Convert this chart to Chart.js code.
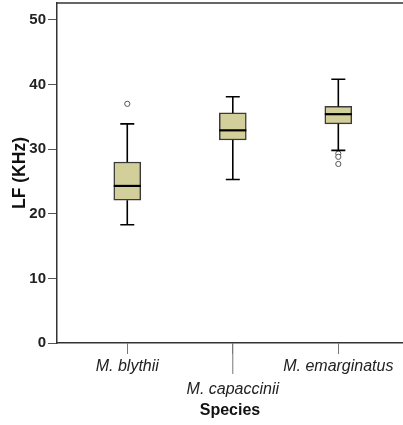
<!DOCTYPE html>
<html>
<head>
    <title>LF by species</title>
    <script src="https://cdn.jsdelivr.net/npm/chart.js"></script>
    <style>
        body { margin: 0; background: #fff; }
    </style>
</head>
<body>
    <canvas id="boxChart" width="403" height="425"></canvas>

<script>
    // values
    var species = ['M. blythii', 'M. capaccinii', 'M. emarginatus'];
    var whiskerLow = [18.3, 25.3, 29.8];
    var q1 = [22.1, 31.4, 33.9];
    var median = [24.3, 32.9, 35.4];
    var q3 = [28.0, 35.6, 36.6];
    var whiskerHigh = [33.9, 38.1, 40.8];
    var outliers = [[37.0], [], [29.3, 28.8, 27.7]];
    var yTicks = [0, 10, 20, 30, 40, 50];

    var boxData = species.map(function(s, i) {
        return { x: i + 1, y: [q1[i], q3[i]] };
    });
    var outlierData = [];
    outliers.forEach(function(list, i) {
        list.forEach(function(v) { outlierData.push({ x: i + 1, y: v }); });
    });

    // whiskers, medians, top frame line and the long middle tick
    var boxExtras = {
        id: 'boxExtras',
        afterDatasetsDraw: function(chart) {
            var ctx = chart.ctx;
            var xs = chart.scales.x, ys = chart.scales.y;
            var area = chart.chartArea;
            ctx.save();
            ctx.strokeStyle = '#000';
            for (var i = 0; i < species.length; i++) {
                var cx = xs.getPixelForValue(i + 1);
                ctx.lineWidth = 1.6;
                ctx.beginPath();
                ctx.moveTo(cx, ys.getPixelForValue(q3[i]));
                ctx.lineTo(cx, ys.getPixelForValue(whiskerHigh[i]));
                ctx.moveTo(cx, ys.getPixelForValue(q1[i]));
                ctx.lineTo(cx, ys.getPixelForValue(whiskerLow[i]));
                ctx.moveTo(cx - 7, ys.getPixelForValue(whiskerHigh[i]));
                ctx.lineTo(cx + 7, ys.getPixelForValue(whiskerHigh[i]));
                ctx.moveTo(cx - 7, ys.getPixelForValue(whiskerLow[i]));
                ctx.lineTo(cx + 7, ys.getPixelForValue(whiskerLow[i]));
                ctx.stroke();
                ctx.lineWidth = 2.2;
                ctx.beginPath();
                ctx.moveTo(cx - 13.5, ys.getPixelForValue(median[i]));
                ctx.lineTo(cx + 13.5, ys.getPixelForValue(median[i]));
                ctx.stroke();
            }
            // top frame
            ctx.strokeStyle = '#333';
            ctx.lineWidth = 1.5;
            ctx.beginPath();
            ctx.moveTo(area.left, area.top);
            ctx.lineTo(chart.width, area.top);
            ctx.stroke();
            // longer tick under the staggered label
            var mx = xs.getPixelForValue(2);
            ctx.strokeStyle = '#777';
            ctx.lineWidth = 1;
            ctx.beginPath();
            ctx.moveTo(mx, area.bottom);
            ctx.lineTo(mx, area.bottom + 31);
            ctx.stroke();
            ctx.restore();
        }
    };

    var ctx = document.getElementById('boxChart').getContext('2d');
    var boxChart = new Chart(ctx, {
        type: 'bar',
        data: {
            datasets: [{
                label: 'LF',
                data: boxData,
                backgroundColor: '#d3cf9a',
                borderColor: '#3a3a3a',
                borderWidth: 1.5,
                borderSkipped: false,
                barThickness: 27
            }, {
                type: 'line',
                label: 'Outliers',
                data: outlierData,
                showLine: false,
                pointRadius: 2.6,
                pointBackgroundColor: '#fff',
                pointBorderColor: '#555',
                pointBorderWidth: 1
            }]
        },
        options: {
            responsive: false,
            animation: false,
            layout: { autoPadding: false, padding: { top: 3, right: 0, bottom: 0, left: 0 } },
            plugins: {
                legend: { display: false },
                tooltip: { enabled: false }
            },
            scales: {
                x: {
                    type: 'linear',
                    offset: false,
                    min: 0.334,
                    max: 3.613,
                    afterBuildTicks: function(scale) {
                        scale.ticks = species.map(function(s, i) { return { value: i + 1 }; });
                    },
                    afterFit: function(scale) {
                        scale.height = 82;
                        scale.paddingLeft = 0;
                        scale.paddingRight = 0;
                    },
                    grid: {
                        offset: false,
                        drawOnChartArea: false,
                        tickLength: 11,
                        tickColor: '#777',
                        tickWidth: 1
                    },
                    border: { color: '#333', width: 1.5 },
                    ticks: {
                        autoSkip: false,
                        maxRotation: 0,
                        padding: 1,
                        color: '#222',
                        font: { family: 'Liberation Sans, Arial', size: 16, style: 'italic', lineHeight: 1.46 },
                        callback: function(value) {
                            var name = species[value - 1];
                            return value === 2 ? ['', name] : name;
                        }
                    },
                    title: {
                        display: true,
                        text: 'Species',
                        color: '#111',
                        padding: { top: 0, bottom: 5 },
                        font: { family: 'Liberation Sans, Arial', size: 16, weight: 'bold' }
                    }
                },
                y: {
                    min: 0,
                    max: 52.6,
                    afterBuildTicks: function(scale) {
                        scale.ticks = yTicks.map(function(v) { return { value: v }; });
                    },
                    afterFit: function(scale) {
                        scale.width = 57;
                        scale.paddingTop = 0;
                        scale.paddingBottom = 0;
                    },
                    grid: {
                        drawOnChartArea: false,
                        tickLength: 9,
                        tickColor: '#555',
                        tickWidth: 1
                    },
                    border: { color: '#333', width: 1.5 },
                    ticks: {
                        padding: 2,
                        color: '#222',
                        font: { family: 'Liberation Sans, Arial', size: 15, weight: 'bold' }
                    },
                    title: {
                        display: true,
                        text: 'LF (KHz)',
                        color: '#111',
                        padding: { top: 10, bottom: 0 },
                        font: { family: 'Liberation Sans, Arial', size: 17.5, weight: 'bold' }
                    }
                }
            }
        },
        plugins: [boxExtras]
    });
</script>
</body>
</html>
